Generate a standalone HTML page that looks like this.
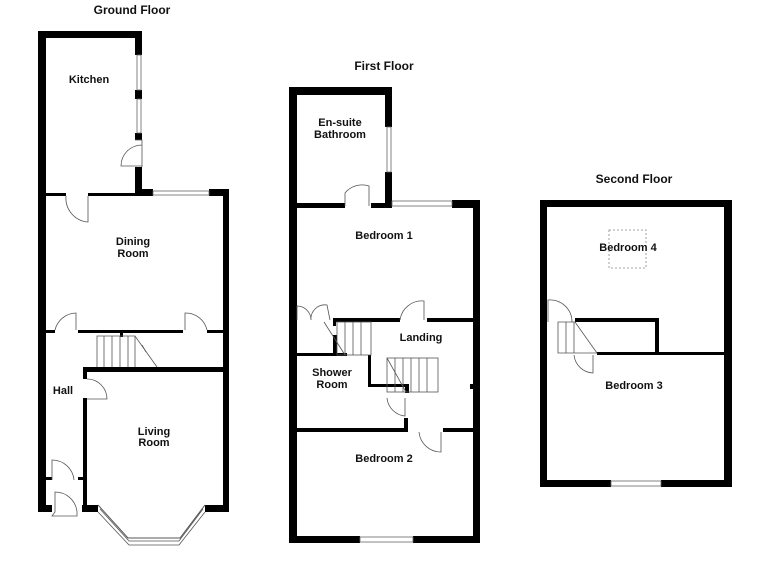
<!DOCTYPE html>
<html><head><style>
html,body{margin:0;padding:0;background:#fff;}
svg{display:block;}
text{font-family:"Liberation Sans",Arial,sans-serif;font-weight:bold;font-size:11px;fill:#111;text-anchor:middle;}
.t{font-size:12px;}
.thin{fill:none;stroke:#555;stroke-width:0.8;}
.win{fill:#fff;stroke:#666;stroke-width:0.8;}
</style></head><body>
<svg width="768" height="576" viewBox="0 0 768 576" xmlns="http://www.w3.org/2000/svg">
<rect width="768" height="576" fill="#fff"/>
<text class="t" x="132" y="14">Ground Floor</text>
<text class="t" x="384" y="70">First Floor</text>
<text class="t" x="634" y="183">Second Floor</text>

<!-- ===== GROUND FLOOR ===== -->
<g fill="#000">
<rect x="38" y="31" width="104" height="7"/>
<rect x="38" y="31" width="8" height="481"/>
<rect x="135" y="31" width="7" height="24"/>
<rect x="135" y="90" width="7" height="9"/>
<rect x="135" y="133" width="7" height="7"/>
<rect x="135" y="167" width="7" height="29"/>
<rect x="135" y="189" width="18" height="7"/>
<rect x="209" y="189" width="20" height="7"/>
<rect x="223" y="189" width="6" height="323"/>
<rect x="46" y="193" width="20" height="3"/>
<rect x="88" y="193" width="47" height="3"/>
<rect x="46" y="330" width="9" height="3"/>
<rect x="78" y="330" width="105" height="3"/>
<rect x="207" y="330" width="16" height="3"/>
<rect x="83" y="367" width="140" height="5"/>
<rect x="83" y="367" width="4" height="12"/>
<rect x="83" y="398" width="4" height="114"/>
<rect x="46" y="477" width="6" height="3"/>
<rect x="78" y="477" width="9" height="3"/>
<rect x="38" y="505" width="14" height="7"/>
<rect x="82" y="505" width="16" height="7"/>
<rect x="205" y="505" width="24" height="7"/>
<rect x="120" y="333" width="3" height="4"/>
</g>
<rect class="win" x="137" y="55" width="4" height="35"/>
<rect class="win" x="137" y="99" width="4" height="34"/>
<rect class="win" x="153" y="191" width="56" height="4"/>
<polyline class="thin" points="98,505 128,538 180,538 205,505" style="stroke-width:1"/>
<polyline class="thin" points="100,509 129,541 179,541 203,509"/>
<polyline class="thin" points="98,512 129,545 179,545 205,512"/>
<path class="thin" d="M88,196 L88,222 A24,24 0 0 1 66,196"/>
<path class="thin" d="M135,140 L142,140 L142,167 M142,166 L121,166 A21,21 0 0 1 142,145"/>
<path class="thin" d="M55,330 A22,22 0 0 1 76,313 L76,330"/>
<path class="thin" d="M207,330 A22,22 0 0 0 185,313 L185,330"/>
<path class="thin" d="M87,379 A20,20 0 0 1 107,399 L87,399"/>
<path class="thin" d="M52,480 L52,460 A22,22 0 0 1 74,480"/>
<path class="thin" d="M55,512 L55,492 A22,22 0 0 1 77,512 L77,516 L52,516 Z"/>
<g class="thin">
<path d="M97,367 L97,336 L135,336 L157,367"/>
<line x1="104" y1="336" x2="104" y2="367"/><line x1="112" y1="336" x2="112" y2="367"/>
<line x1="120" y1="336" x2="120" y2="367"/><line x1="128" y1="336" x2="128" y2="367"/>
<line x1="135" y1="336" x2="135" y2="367"/><line x1="142" y1="345" x2="146" y2="352"/>
</g>
<text x="89" y="83">Kitchen</text>
<text x="133" y="245">Dining</text>
<text x="133" y="257">Room</text>
<text x="63" y="394">Hall</text>
<text x="154" y="435">Living</text>
<text x="154" y="446">Room</text>

<!-- ===== FIRST FLOOR ===== -->
<g fill="#000">
<rect x="289" y="87" width="103" height="8"/>
<rect x="289" y="87" width="8" height="456"/>
<rect x="385" y="87" width="7" height="40"/>
<rect x="385" y="172" width="7" height="36"/>
<rect x="297" y="203" width="48" height="5"/>
<rect x="371" y="203" width="21" height="5"/>
<rect x="452" y="200" width="28" height="8"/>
<rect x="473" y="200" width="7" height="343"/>
<rect x="289" y="536" width="71" height="7"/>
<rect x="413" y="536" width="67" height="7"/>
<rect x="333" y="318" width="67" height="4"/>
<rect x="427" y="318" width="46" height="4"/>
<rect x="297" y="353" width="50" height="3"/>
<rect x="333" y="318" width="3" height="8"/>
<rect x="333" y="335" width="4" height="18"/>
<rect x="368" y="355" width="3" height="32"/>
<rect x="368" y="384" width="40" height="3"/>
<rect x="405" y="384" width="4" height="9"/>
<rect x="404" y="418" width="4" height="14"/>
<rect x="297" y="428" width="111" height="4"/>
<rect x="443" y="428" width="30" height="4"/>
<rect x="470" y="384" width="3" height="5"/>
</g>
<rect class="win" x="387" y="127" width="4" height="45"/>
<rect class="win" x="392" y="201" width="60" height="5"/>
<rect class="win" x="360" y="537" width="53" height="5"/>
<path class="thin" d="M345,206 L345,193 A22,22 0 0 1 369,186 L369,206"/>
<path class="thin" d="M400,320 A22,22 0 0 1 424,301 L424,320"/>
<path class="thin" d="M297,320 L297,306 A14,14 0 0 1 311,320 M311,320 A14,14 0 0 1 327,305 L330,320"/>
<path class="thin" d="M387,398 A20,20 0 0 0 405,416 L405,398"/>
<path class="thin" d="M419,432 A22,22 0 0 0 441,452 L441,432"/>
<g class="thin">
<rect x="337" y="322" width="34" height="33"/>
<line x1="345" y1="322" x2="345" y2="355"/><line x1="353" y1="322" x2="353" y2="355"/>
<line x1="361" y1="322" x2="361" y2="355"/>
<line x1="324" y1="322" x2="345" y2="355"/>
<rect x="387" y="358" width="51" height="34"/>
<line x1="395" y1="358" x2="395" y2="392"/><line x1="403" y1="358" x2="403" y2="392"/>
<line x1="411" y1="358" x2="411" y2="392"/><line x1="419" y1="358" x2="419" y2="392"/>
<line x1="427" y1="358" x2="427" y2="392"/>
<line x1="387" y1="358" x2="406" y2="392"/>
</g>
<text x="340" y="126">En-suite</text>
<text x="340" y="138">Bathroom</text>
<text x="384" y="239">Bedroom 1</text>
<text x="421" y="341">Landing</text>
<text x="332" y="376">Shower</text>
<text x="332" y="388">Room</text>
<text x="384" y="462">Bedroom 2</text>

<!-- ===== SECOND FLOOR ===== -->
<g fill="#000">
<rect x="540" y="200" width="192" height="7"/>
<rect x="540" y="200" width="7" height="287"/>
<rect x="724" y="200" width="8" height="287"/>
<rect x="540" y="480" width="71" height="7"/>
<rect x="661" y="480" width="71" height="7"/>
<rect x="575" y="318" width="84" height="4"/>
<rect x="655" y="318" width="4" height="36"/>
<rect x="597" y="352" width="127" height="3"/>
</g>
<rect class="win" x="611" y="481" width="50" height="5"/>
<rect x="609" y="230" width="37" height="38" fill="none" stroke="#888" stroke-width="0.8" stroke-dasharray="2,2"/>
<g class="thin">
<path d="M548,322 L548,300 A22,22 0 0 1 572,322"/>
<path d="M558,353 L558,322 L575,322 L597,353 Z"/>
<line x1="566" y1="322" x2="566" y2="353"/><line x1="574" y1="322" x2="574" y2="353"/>
<path d="M574,355 A20,20 0 0 0 593,373 L593,355"/>
</g>
<text x="628" y="251">Bedroom 4</text>
<text x="634" y="389">Bedroom 3</text>
</svg>
</body></html>
